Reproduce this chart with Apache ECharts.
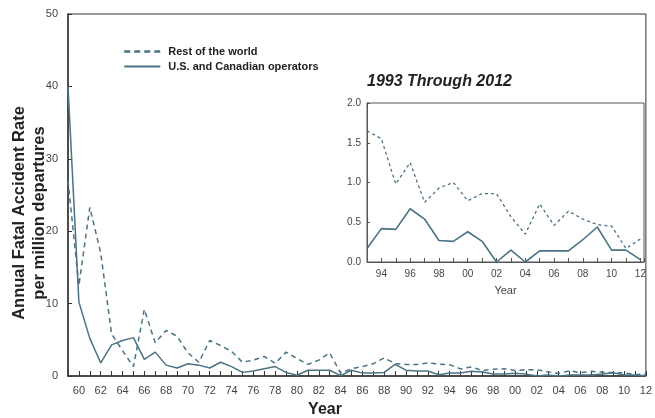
<!DOCTYPE html>
<html>
<head>
<meta charset="utf-8">
<script src="https://cdn.jsdelivr.net/npm/echarts@6/dist/echarts.min.js"></script>
<style>
  html, body { margin: 0; padding: 0; background: #fff; }
  #chart { width: 655px; height: 418px; }
</style>
</head>
<body>
<div id="chart"></div>
<script>
// years 1959 - 2012
var years = [1959, 1960, 1961, 1962, 1963, 1964, 1965, 1966, 1967, 1968,
  1969, 1970, 1971, 1972, 1973, 1974, 1975, 1976, 1977, 1978,
  1979, 1980, 1981, 1982, 1983, 1984, 1985, 1986, 1987, 1988,
  1989, 1990, 1991, 1992, 1993, 1994, 1995, 1996, 1997, 1998,
  1999, 2000, 2001, 2002, 2003, 2004, 2005, 2006, 2007, 2008,
  2009, 2010, 2011, 2012];

// 美国和加拿大
var usCanada = [40, 10.2, 5.2, 1.8, 4.3, 4.9, 5.3, 2.3, 3.3, 1.5,
  1.1, 1.7, 1.5, 1.1, 1.9, 1.3, 0.5, 0.7, 1.0, 1.3,
  0.5, 0.1, 0.8, 0.8, 0.8, 0.05, 0.8, 0.4, 0.4, 0.5,
  1.6, 0.8, 0.7, 0.7, 0.17, 0.42, 0.41, 0.67, 0.54, 0.27,
  0.26, 0.38, 0.26, 0.0, 0.15, 0.0, 0.14, 0.14, 0.14, 0.28,
  0.44, 0.15, 0.15, 0.03];

// 世界其他地区
var restWorld = [27, 12.5, 23.3, 17, 5.8, 3.5, 1.3, 9.2, 4.6, 6.3,
  5.5, 3.2, 1.9, 4.9, 4.2, 3.4, 1.9, 2.2, 2.7, 1.75,
  3.3, 2.4, 1.6, 2.2, 3.2, 0.4, 1.0, 1.3, 1.7, 2.5,
  1.7, 1.6, 1.6, 1.8, 1.65, 1.55, 0.98, 1.25, 0.75, 0.93,
  1.0, 0.77, 0.86, 0.86, 0.57, 0.35, 0.73, 0.46, 0.64, 0.54,
  0.47, 0.45, 0.17, 0.29];

var insetStart = 1993;
var mainYTicks = [0, 10, 20, 30, 40, 50];
var insetYTicks = [0, 0.5, 1.0, 1.5, 2.0];

function pairs(vals, from) {
  var out = [];
  for (var i = 0; i < years.length; i++) {
    if (years[i] >= from) out.push([years[i], vals[i]]);
  }
  return out;
}

function yearLabel(v) {
  if (v % 2 !== 0 || Math.round(v) !== v) return '';
  var s = String(v % 100);
  return s.length < 2 ? '0' + s : s;
}

var lineColor = '#4a7384';
var axisColor = '#333';
var fontFam = '"Liberation Sans", Arial, sans-serif';

var chart = echarts.init(document.getElementById('chart'));
var option = {
  animation: false,
  backgroundColor: '#fff',
  textStyle: { fontFamily: fontFam },
  title: {
    text: '1993 Through 2012',
    left: 362, top: 69,
    textStyle: { fontSize: 16, fontWeight: 'bold', fontStyle: 'italic', color: '#222', fontFamily: fontFam }
  },
  legend: {
    left: 118, top: 41,
    orient: 'vertical',
    itemWidth: 36, itemHeight: 12, itemGap: 4,
    itemStyle: { opacity: 0 },
    data: [
      { name: 'Rest of the world', lineStyle: { type: [6, 4], width: 2.5 } },
      { name: 'U.S. and Canadian operators', lineStyle: { width: 1.8 } }
    ],
    textStyle: { fontSize: 11, fontWeight: 'bold', color: '#222', padding: [0, 0, 0, 3] }
  },
  graphic: [
    {
      type: 'text', x: 29, y: 213, rotation: Math.PI / 2,
      style: {
        text: 'Annual Fatal Accident Rate\nper million departures',
        textAlign: 'center', textVerticalAlign: 'middle',
        font: 'bold 16.5px ' + fontFam, lineHeight: 20, fill: '#222'
      }
    },
    {
      type: 'text', x: 325, y: 410,
      style: {
        text: 'Year', textAlign: 'center', textVerticalAlign: 'middle',
        font: 'bold 16px ' + fontFam, fill: '#222'
      }
    }
  ],
  grid: [
    { left: 68, top: 14, right: 4, bottom: 42, show: true, borderColor: axisColor, borderWidth: 1 },
    { left: 367, top: 103, right: 11, bottom: 156, show: true, borderColor: '#555', borderWidth: 1, backgroundColor: '#fff' }
  ],
  xAxis: [
    {
      gridIndex: 0, type: 'value', min: 1959, max: 2012, interval: 1,
      axisLine: { lineStyle: { color: axisColor, width: 1.5 } },
      axisTick: { inside: true, length: 5, lineStyle: { color: axisColor } },
      axisLabel: { formatter: yearLabel, fontSize: 11, color: '#444', margin: 9, showMinLabel: true, showMaxLabel: true },
      splitLine: { show: false }
    },
    {
      gridIndex: 1, type: 'value', min: 1993, max: 2012.25, interval: 1,
      name: 'Year', nameLocation: 'middle', nameGap: 23,
      nameTextStyle: { fontSize: 11, color: '#444' },
      axisLine: { lineStyle: { color: '#555' } },
      axisTick: { inside: true, length: 4, lineStyle: { color: '#555' } },
      axisLabel: { formatter: yearLabel, fontSize: 10, color: '#444', margin: 7 },
      splitLine: { show: false }
    }
  ],
  yAxis: [
    {
      gridIndex: 0, type: 'value', min: mainYTicks[0], max: mainYTicks[mainYTicks.length - 1], interval: 10,
      axisLine: { show: true, lineStyle: { color: axisColor, width: 1.5 } },
      axisTick: { show: true, inside: true, length: 4, lineStyle: { color: axisColor } },
      axisLabel: { fontSize: 11, color: '#444', margin: 10 },
      splitLine: { show: false }
    },
    {
      gridIndex: 1, type: 'value', min: insetYTicks[0], max: insetYTicks[insetYTicks.length - 1], interval: 0.5,
      axisLine: { show: true, lineStyle: { color: '#555' } },
      axisTick: { show: true, inside: true, length: 3, lineStyle: { color: '#555' } },
      axisLabel: { fontSize: 10, color: '#444', margin: 6, formatter: function (v) { return v.toFixed(1); } },
      splitLine: { show: false }
    }
  ],
  series: [
    {
      name: 'Rest of the world', type: 'line', xAxisIndex: 0, yAxisIndex: 0,
      showSymbol: false, symbol: 'none',
      itemStyle: { color: lineColor },
      lineStyle: { color: lineColor, width: 1.5, type: [5, 4] },
      data: pairs(restWorld, 1959)
    },
    {
      name: 'U.S. and Canadian operators', type: 'line', xAxisIndex: 0, yAxisIndex: 0,
      showSymbol: false, symbol: 'none',
      itemStyle: { color: lineColor },
      lineStyle: { color: lineColor, width: 1.5 },
      data: pairs(usCanada, 1959)
    },
    {
      name: 'Rest of the world inset', type: 'line', xAxisIndex: 1, yAxisIndex: 1,
      showSymbol: false, symbol: 'none',
      lineStyle: { color: lineColor, width: 1.3, type: [3, 3] },
      data: pairs(restWorld, insetStart)
    },
    {
      name: 'U.S. and Canadian inset', type: 'line', xAxisIndex: 1, yAxisIndex: 1,
      showSymbol: false, symbol: 'none',
      lineStyle: { color: lineColor, width: 1.6 },
      data: pairs(usCanada, insetStart)
    }
  ]
};
chart.setOption(option);
</script>
</body>
</html>
